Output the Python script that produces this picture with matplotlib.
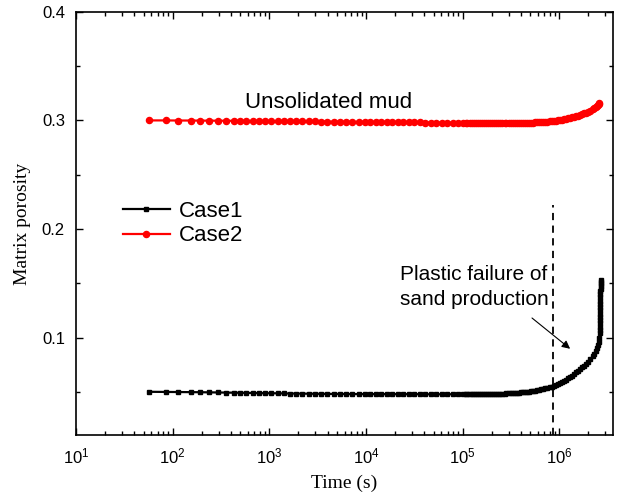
import matplotlib
matplotlib.use("Agg")
import matplotlib.pyplot as plt
from matplotlib.ticker import LogLocator, MultipleLocator, NullFormatter

plt.rcParams["font.family"] = ["Liberation Sans", "DejaVu Sans"]
plt.rcParams["mathtext.fontset"] = "custom"
plt.rcParams["mathtext.rm"] = "Liberation Sans"

# simulation output times (s), shared by both cases
time_s = [
    57, 85, 114, 155, 194, 240, 296, 358, 433,
    500, 580, 670, 780, 900, 1050, 1220, 1410, 1640, 1900,
    2200, 2550, 2960, 3430, 3980, 4620, 5360, 6220, 7210, 8370, 9700,
    11100, 12600, 14400, 16400, 18700, 21300, 24300, 27700, 31600, 36000,
    41000, 46800, 53300, 60800, 69300, 79000, 90000, 102000,
    107000, 112000, 118000, 124000, 130000, 137000, 144000, 151000, 158000, 166000,
    175000, 183000, 192000, 202000, 212000, 223000, 234000, 246000, 258000, 271000,
    284000, 299000, 313000, 329000, 345000, 363000, 381000, 400000, 420000, 441000,
    463000, 486000, 511000, 536000, 563000, 591000, 621000, 652000, 684000, 718000,
    754000, 792000, 832000, 873000, 917000, 963000, 1011000, 1062000, 1115000, 1170000,
    1229000, 1290000, 1355000, 1422000, 1494000, 1568000, 1647000, 1729000, 1815000, 1906000,
    2001000, 2101000, 2206000, 2300000, 2380000, 2450000, 2510000, 2560000, 2600000,
]

case1_porosity = [
    0.0500, 0.0499, 0.0498, 0.0497, 0.0496, 0.0495, 0.0494, 0.0493, 0.0492,
    0.0491, 0.0490, 0.0489, 0.0488, 0.0487, 0.0487, 0.0486, 0.0485, 0.0484, 0.0484,
    0.0483, 0.0482, 0.0482, 0.0481, 0.0481, 0.0480, 0.0480, 0.0479, 0.0479, 0.0479, 0.0478,
    0.0478, 0.0478, 0.0478, 0.0478, 0.0478, 0.0478, 0.0478, 0.0478, 0.0478, 0.0478,
    0.0477, 0.0477, 0.0477, 0.0477, 0.0477, 0.0477, 0.0477, 0.0477,
    0.0477, 0.0477, 0.0477, 0.0477, 0.0477, 0.0477, 0.0478, 0.0478, 0.0478, 0.0478,
    0.0479, 0.0479, 0.0479, 0.0480, 0.0480, 0.0481, 0.0481, 0.0482, 0.0483, 0.0484,
    0.0485, 0.0486, 0.0487, 0.0488, 0.0489, 0.0491, 0.0492, 0.0494, 0.0496, 0.0498,
    0.0500, 0.0502, 0.0505, 0.0508, 0.0511, 0.0514, 0.0518, 0.0522, 0.0526, 0.0531,
    0.0536, 0.0542, 0.0548, 0.0555, 0.0563, 0.0571, 0.0580, 0.0590, 0.0600, 0.0612,
    0.0624, 0.0637, 0.0650, 0.0664, 0.0678, 0.0693, 0.0708, 0.0724, 0.0740, 0.0757,
    0.0777, 0.0800, 0.0826, 0.0852, 0.0876, 0.0900, 0.0928, 0.0960, 0.1000,
]

# steep final rise of case 1 (sand production)
case1_tail_time = [2615000, 2625000, 2632000, 2638000, 2643000, 2647000, 2650000, 2653000,
                   2656000, 2658000, 2660000, 2662000, 2664000, 2666000, 2668000, 2670000,
                   2672000, 2674000, 2676000]
case1_tail_porosity = [0.104, 0.107, 0.110, 0.113, 0.116, 0.119, 0.122, 0.125,
                       0.128, 0.131, 0.134, 0.137, 0.140, 0.143, 0.145, 0.147,
                       0.149, 0.151, 0.153]

case2_porosity = [
    0.3000, 0.3000, 0.2999, 0.2999, 0.2998, 0.2998, 0.2997, 0.2997, 0.2996,
    0.2996, 0.2995, 0.2995, 0.2994, 0.2994, 0.2993, 0.2993, 0.2992, 0.2992, 0.2991,
    0.2991, 0.2990, 0.2990, 0.2989, 0.2989, 0.2988, 0.2988, 0.2987, 0.2987, 0.2986, 0.2986,
    0.2985, 0.2985, 0.2984, 0.2984, 0.2983, 0.2983, 0.2982, 0.2982, 0.2981, 0.2981,
    0.2980, 0.2980, 0.2979, 0.2979, 0.2978, 0.2978, 0.2977, 0.2977,
    0.2977, 0.2977, 0.2976, 0.2976, 0.2976, 0.2976, 0.2976, 0.2975, 0.2975, 0.2975,
    0.2975, 0.2975, 0.2975, 0.2975, 0.2975, 0.2975, 0.2975, 0.2975, 0.2975, 0.2975,
    0.2975, 0.2975, 0.2975, 0.2976, 0.2976, 0.2976, 0.2977, 0.2977, 0.2977, 0.2978,
    0.2978, 0.2979, 0.2979, 0.2980, 0.2981, 0.2982, 0.2983, 0.2984, 0.2985, 0.2987,
    0.2989, 0.2991, 0.2993, 0.2995, 0.2998, 0.3001, 0.3004, 0.3007, 0.3011, 0.3015,
    0.3019, 0.3023, 0.3028, 0.3033, 0.3038, 0.3044, 0.3050, 0.3057, 0.3064, 0.3072,
    0.3081, 0.3091, 0.3102, 0.3113, 0.3123, 0.3133, 0.3143, 0.3153, 0.3160,
]

failure_time = 8.5e5
failure_line_top = 0.222

fig = plt.figure(figsize=(6.26, 4.94), dpi=100)
ax = fig.add_axes([0.1214, 0.119, 0.858, 0.857])

ax.plot(time_s + case1_tail_time, case1_porosity + case1_tail_porosity,
        color="black", marker="s", markersize=3.3, linewidth=1.6, label="Case1")
ax.plot(time_s, case2_porosity, color="red", marker="o", markersize=4.4,
        linewidth=1.6, label="Case2")

ax.vlines(failure_time, 0.01, failure_line_top, colors="black",
          linestyles=(0, (4, 3)), linewidth=1.3)

ax.set_xscale("log")
ax.set_xlim(10, 3.6e6)
ax.set_ylim(0.01, 0.4)
ax.yaxis.set_major_locator(MultipleLocator(0.1))
ax.yaxis.set_minor_locator(MultipleLocator(0.05))
ax.xaxis.set_major_locator(LogLocator(base=10, numticks=10))
ax.xaxis.set_minor_locator(LogLocator(base=10, subs=range(2, 10), numticks=20))
ax.xaxis.set_minor_formatter(NullFormatter())
ax.yaxis.set_major_formatter(plt.FuncFormatter(lambda v, _: f"{v:.1f}"))

ax.tick_params(which="both", direction="in", top=True, right=True, labelsize=12)
ax.tick_params(which="major", length=5, width=1, pad=8)
ax.tick_params(which="minor", length=3, width=1)
for spine in ax.spines.values():
    spine.set_linewidth(1.2)

ax.set_xlabel("Time (s)", family="Liberation Serif", fontsize=14, labelpad=6)
ax.set_ylabel("Matrix porosity", family="Liberation Serif", fontsize=14, labelpad=8)

ax.text(0.471, 0.785, "Unsolidated mud", transform=ax.transAxes,
        ha="center", va="center", fontsize=16)
ax.text(0.741, 0.351, "Plastic failure of\nsand production", transform=ax.transAxes,
        ha="center", va="center", fontsize=15, linespacing=1.4)
ax.annotate("", xy=(0.924, 0.200), xytext=(0.845, 0.281),
            xycoords="axes fraction", textcoords="axes fraction",
            arrowprops=dict(arrowstyle="-|>", color="black", lw=0.8,
                            mutation_scale=12))

ax.legend(loc="upper left", bbox_to_anchor=(0.0875, 0.553), frameon=False,
          fontsize=16, handlelength=2.1, borderpad=0, borderaxespad=0,
          labelspacing=0.15, handletextpad=0.4)

fig.savefig("out.png", dpi=100)
